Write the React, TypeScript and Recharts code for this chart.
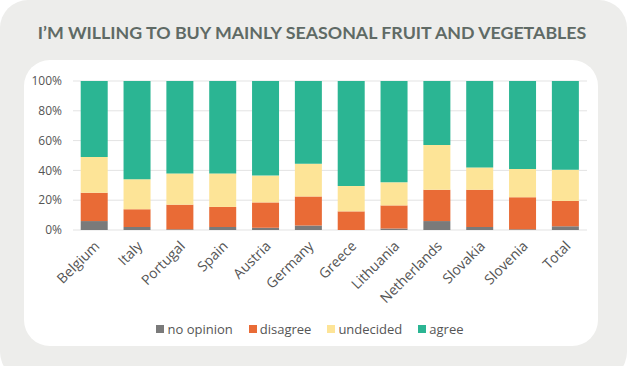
import { BarChart, Bar, XAxis, YAxis, CartesianGrid, Legend } from "recharts";

const countries = [
  "Belgium", "Italy", "Portugal", "Spain", "Austria", "Germany",
  "Greece", "Lithuania", "Netherlands", "Slovakia", "Slovenia", "Total",
];
const noOpinion = [6, 2, 0.5, 2, 1.5, 3, 0, 1, 6, 2, 0.5, 2.5];
const disagree = [19, 12, 16.5, 13.5, 17, 19.5, 12.5, 15.5, 21, 25, 21.5, 17];
const undecided = [24, 20, 21, 22.5, 18, 22, 17, 15.5, 30, 15, 19, 21];
const agree = [51, 66, 62, 62, 63.5, 55.5, 70.5, 68, 43, 58, 59, 59.5];
const yTicks = [0, 20, 40, 60, 80, 100];

const SERIES = [
  { key: "noOpinion", name: "no opinion", color: "#7a7a7a" },
  { key: "disagree", name: "disagree", color: "#e96b36" },
  { key: "undecided", name: "undecided", color: "#fde497" },
  { key: "agree", name: "agree", color: "#2bb593" },
];

const data = countries.map((c, i) => ({
  name: c,
  noOpinion: noOpinion[i],
  disagree: disagree[i],
  undecided: undecided[i],
  agree: agree[i],
}));

const FONT = "'Open Sans', sans-serif";

function AngledTick({ x, y, payload }: any) {
  return (
    <g transform={`translate(${x + 6},${y + 9})`}>
      <text
        textAnchor="end"
        transform="rotate(-45)"
        fontSize={14}
        fill="#555"
        fontFamily={FONT}
      >
        {payload.value}
      </text>
    </g>
  );
}

function LegendBox() {
  return (
    <div
      style={{
        display: "flex",
        justifyContent: "center",
        gap: 16,
        fontFamily: FONT,
        fontSize: 13,
        color: "#555",
        height: 20,
        alignItems: "center",
      }}
    >
      {SERIES.map((s) => (
        <span key={s.key} style={{ display: "flex", alignItems: "center" }}>
          <span
            style={{
              width: 8,
              height: 8,
              background: s.color,
              marginRight: 3,
              display: "inline-block",
            }}
          />
          {s.name}
        </span>
      ))}
    </div>
  );
}

export default function App() {
  return (
    <div
      style={{
        position: "absolute",
        left: 0,
        top: 0,
        width: 627,
        height: 366,
        background: "#fff",
        overflow: "hidden",
      }}
    >
      <div
        style={{
          position: "absolute",
          left: 0,
          top: 0,
          width: 627,
          height: 380,
          background: "#ededeb",
          borderRadius: 28,
        }}
      />
      <div
        style={{
          position: "absolute",
          left: 0,
          top: 21,
          width: 624,
          textAlign: "center",
          fontFamily: "Lato, sans-serif",
          fontWeight: 700,
          fontSize: 17.8,
          color: "#5f6a65",
        }}
      >
        I’M WILLING TO BUY MAINLY SEASONAL FRUIT AND VEGETABLES
      </div>
      <div
        style={{
          position: "absolute",
          left: 24,
          top: 60,
          width: 574,
          height: 286,
          background: "#fff",
          borderRadius: 26,
        }}
      />
      <div style={{ position: "absolute", left: 0, top: 0 }}>
        <BarChart
          width={627}
          height={366}
          data={data}
          margin={{ top: 81, right: 40, left: 33, bottom: 27 }}
          barCategoryGap="18%"
        >
          <CartesianGrid vertical={false} stroke="#e3e3e3" />
          <XAxis
            dataKey="name"
            interval={0}
            tick={<AngledTick />}
            tickLine={false}
            axisLine={false}
            height={89}
          />
          <YAxis
            width={40}
            domain={[0, 100]}
            ticks={yTicks}
            tickFormatter={(v) => `${v}%`}
            tickLine={false}
            axisLine={false}
            tickMargin={5}
            tick={{ fontSize: 12, fill: "#555", fontFamily: FONT }}
          />
          <Legend
            verticalAlign="bottom"
            height={20}
            content={<LegendBox />}
          />
          {SERIES.map((s) => (
            <Bar
              key={s.key}
              dataKey={s.key}
              name={s.name}
              stackId="a"
              fill={s.color}
              isAnimationActive={false}
            />
          ))}
        </BarChart>
      </div>
    </div>
  );
}
